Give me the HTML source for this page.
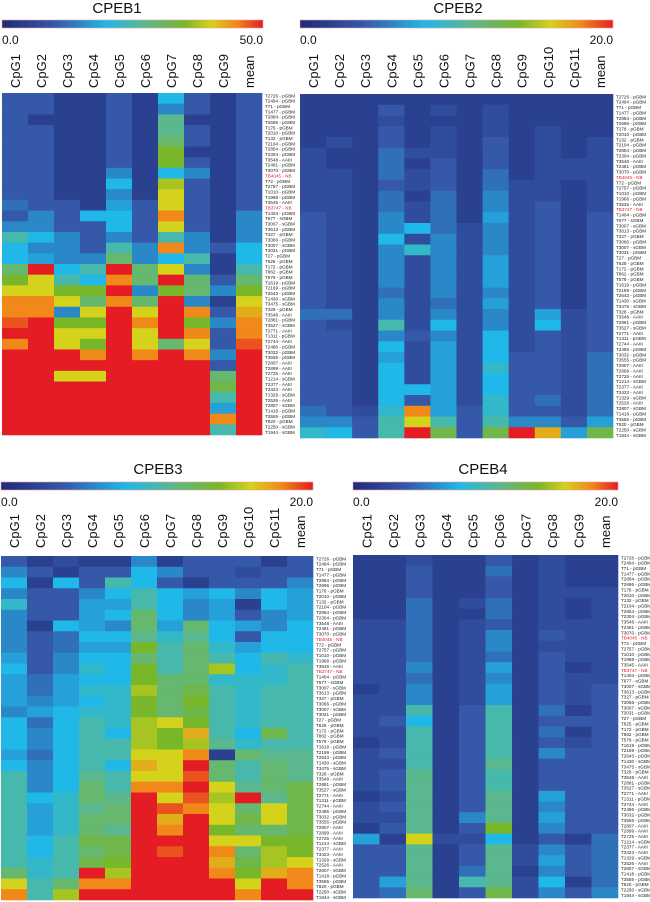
<!DOCTYPE html>
<html><head><meta charset="utf-8"><style>
html,body{margin:0;padding:0;background:#fff;}
svg{display:block;font-family:"Liberation Sans",Arial,sans-serif;}
</style></head><body>
<svg id="fig" width="650" height="902" viewBox="0 0 650 902" xmlns="http://www.w3.org/2000/svg">
<defs>
<linearGradient id="cmap" x1="0" x2="1" y1="0" y2="0">
<stop offset="0" stop-color="#1e2a78"/>
<stop offset="0.2" stop-color="#3558a8"/>
<stop offset="0.4" stop-color="#1fb8e8"/>
<stop offset="0.55" stop-color="#5bb88e"/>
<stop offset="0.7" stop-color="#79b72a"/>
<stop offset="0.8" stop-color="#d4d21a"/>
<stop offset="0.9" stop-color="#f0881a"/>
<stop offset="1" stop-color="#e41c24"/>
</linearGradient>
</defs>
</svg>
<script>
// ---- data (values on 0..10 scale relative to colour-bar max) ----
const cpeb1Cols = ["CpG1","CpG2","CpG3","CpG4","CpG5","CpG6","CpG7","CpG8","CpG9","mean"];
const cpeb1Max = "50.0";
const cpeb1Values = [
[2,2,1,1,2,1,4,2,1,2],[2,2,1,1,2,1,3,2,1,2],[2,1,1,1,2,1,5.5,1,1,2],[2,2,1,1,2,1,5.5,2,1,2],
[2,2,1,1,2,1,6,2,1,2],[2,2,1,1,2,1,7,1,1,2],[2,2,1,1,2,1,7,2,1,2],[2,2,1,1,3,1,4,3,1,2],
[2,2,1,1,4,1,7.5,2,1,2],[2,2,1,1,3,1,8,2,1,2],[2.5,2,2,1,3.5,2,8,2,1,2],[2,3,2,4,4,2,9,2,1,3],
[3,3,2,2,4,2,8,2,1,3],[5,4,3,2,3,2,5,3,1,3],[4,3,3,2,5,3,9,3,2,4],[4,3.5,3,3,6,3,4,5,1,4],
[6,10,4,5,10,6,8,3,1,5],[7,8,5,4,9,6,10,6,2,6],[8,8,7,7,10,3,7,6,3,7],[9,9,8,6,9,6,10,3,1,8],
[9,9,3,8,10,8,10,9,2,8.5],[9.5,10,7,7,10,9,10,7,3,9],[10,10,8,8,10,8,10,9,2,9],[9,10,8,7,10,8,6,8,2,9.5],
[10,10,10,9,10,9,10,9,3,10],[10,10,10,10,10,10,10,10,2,10],[10,10,8,8,10,10,10,10,6,10],[10,10,10,10,10,10,10,10,6.5,10],
[10,10,10,10,10,10,10,10,5,10],[10,10,10,10,10,10,10,10,3.5,10],[10,10,10,10,10,10,10,10,9,10],[10,10,10,10,10,10,10,10,5,10]];

const cpeb2Cols = ["CpG1","CpG2","CpG3","CpG4","CpG5","CpG6","CpG7","CpG8","CpG9","CpG10","CpG11","mean"];
const cpeb2Max = "20.0";
const cpeb2Values = [
[1,1,1,1,1,1,1,1,1,1,1,1],[1,1,1,2,1,1.5,1,1.5,1,1,1,1],[1,1,1,1.5,1,1,1,1.5,1,1,1,1],[1,1,1,2,1,1.5,1,1.5,1,1.5,1,1],
[1,1.5,1,2,1,1.5,1,2,1,1.5,1,1.5],[1.5,1,1,2.5,1.5,1.5,1,2,1,1.5,1,1.5],[1.5,1,1,2.5,1,2,1,2,1,1.5,1.5,1.5],[1.5,1.5,1,2.5,1.5,2,1,2.5,1,1.5,1.5,1.5],
[1.5,1.5,1,2,1.5,2,1,2.5,1.5,1.5,1,1.5],[1.5,1.5,1,2.5,1,2.5,1,3,1.5,1.5,1,1.5],[1.5,1.5,1,2.5,1.5,2.5,1,3,1.5,2,1,1.5],[2,1.5,1,3,1.5,2.5,1,3.5,1.5,2,1,2],
[2,1.5,1,3,4,2.5,1.5,3,1.5,2,1,2],[2,1.5,1,4,1.5,3,1.5,3,1.5,2,1,2],[2,1.5,1,3,4.5,3,1.5,3,1.5,2,1,2],[2,1.5,1,3,1.5,3,1.5,3.5,1.5,2,1,2],
[2,1.5,1,3,1.5,3,1.5,3.5,1.5,2,1,2],[2,1.5,1,3,1.5,3,1.5,3.5,1.5,2,1,2],[2,1.5,1,2.5,1.5,3,1.5,3,1.5,2,1,2],[2,1.5,1,3,1.5,2.5,1.5,3.5,1.5,2,1,2],
[2.5,2.5,1,3,1.5,3,1.5,3,1.5,3.5,1.5,2],[2,1.5,1,5,1.5,4,1.5,3,1.5,4,1.5,2],[2,2,1,3,2,3,1.5,4,1.5,2,1.5,2],[2,2,1,4,1.5,3.5,1.5,4,1.5,2,1.5,2],
[2,2,1,3.5,1.5,3.5,1.5,4,2,2,1.5,2.5],[2,2,1,4,1.5,3.5,1.5,4.5,2,2,1.5,2.5],[2,2,1,4,1.5,3.5,1.5,4,2,2,1.5,2.5],[2,2,1,4,4,3.5,1.5,4,2,2,1.5,2.5],
[2,2,1,4,2,3.5,1.5,4.5,2,2.5,1.5,2.5],[2.5,2,1.5,4.5,9,3.5,2,4.5,2,2,1.5,2.5],[3,3,2,5,8,5,2,5,3,3,2,3.5],[4.5,4,2,5,10,6.5,2,6.5,10,8.5,3.5,6.5]];

const cpeb3Cols = ["CpG1","CpG2","CpG3","CpG4","CpG5","CpG6","CpG7","CpG8","CpG9","CpG10","CpG11","mean"];
const cpeb3Max = "20.0";
const cpeb3Values = [
[2,1,1.5,1,1,3,1,2,2,2,1,2],[3,2,1,2,2,4,3,2,2,1.5,2,2],[4,1,4,2,5,4,2,1,2,2,2,3],[3,2,2,3,4,5,4,3.5,4,3,4,3.5],
[4.5,2,2,3.5,3.5,5,4,3,3.5,1,4,3.5],[3,2,2,3.5,4,6,4,3,3.5,2,3,3.5],[3,1,4,3.5,3,6,3.5,6,4,3.5,3,4],[3,2,2.5,4,4,5.5,4.5,5.5,4,2,4,4],
[3,2,2.5,3.5,3.5,7,5,6,4.5,3.5,4,4],[3.5,2,3,4,4,6,5,6,5,4,5,4.5],[4,2,3,4.5,4,7,5,6,7.5,4,4.5,5],[3.5,2.5,3.5,4,4,7,6,6,4.5,4.5,4.5,5],
[3.5,2.5,3.5,4.5,4.5,7.5,6,6.5,5,4.5,5,5],[3.5,3,3.5,4,4.5,7,6,7,5,4.5,5,5],[3,3.5,4,4.5,4.5,7,6,6.5,5,4.5,5,5],[4,2.5,4,5,4.5,7.5,8,7,5,4.5,5,5],
[4,3,4,5,4,7.5,7,8.5,5,4,6.5,5],[4,3,4,5,5,7.5,7,7.5,5.5,4.5,5,5],[3.5,2.5,4,5,5,8,8,9,1,6,5.5,5.5],[4,3,4,5,4,8.5,8,10,6,5,6,5.5],
[5,3,4,5.5,5,8,8,9.5,6,5,6,5.5],[5,3,4,6,5,9,9,10,8,5.5,6,6.5],[5,4,4.5,6,5.5,10,8,9.5,7.5,10,5.5,6.5],[5,3.5,4.5,5.5,6,10,9.5,9,8,6,8,6.5],
[5,3.5,4.5,6,6,10,8.5,10,8,6.5,8,6.5],[5,3.5,4.5,6,5.5,10,9,10,7,6,6,6.5],[5,4,5,6.5,6.5,10,10,10,8,8,7,7],[5,4,5,6,6.5,10,9.5,10,9,6,7.5,7],
[5,4.5,5,6.5,7,10,10,10,8.5,6.5,7.5,8],[6,4.5,5,10,7.5,10,10,10,9,7,8.5,9],[8,5,6,9,9,10,10,10,10,8,10,9],[9,5,7.5,10,10,10,10,10,10,9,10,10]];

const cpeb4Cols = ["CpG1","CpG2","CpG3","CpG4","CpG5","CpG6","CpG7","CpG8","CpG9","mean"];
const cpeb4Max = "20.0";
const cpeb4Values = [
[1,1,1.5,1,1,2,1,1.5,1,1],[1,1,2,1,1,2.5,1,1.5,1,1],[1,1,2,1,1,2,1,1.5,1,1],[1,1,2,1,1,2,1,1.5,1.5,1.5],
[1,1,2.5,1,1.5,2.5,1,1.5,1,1.5],[1,1,2.5,1,1,2.5,1,1.5,1,1.5],[1.5,1.5,2.5,1,1.5,2,1,1.5,1.5,1.5],[1.5,1.5,2.5,1,1.5,3,1,2,1.5,1.5],
[1.5,1.5,2.5,1,1.5,3,1,1.5,1.5,1.5],[1.5,1.5,2.5,1,1.5,2.5,1,2,1.5,1.5],[1.5,1.5,3,1,1.5,3.5,1,2,1,1.5],[1.5,1.5,2.5,1,1.5,3,1,2,1.5,1.5],
[1,1.5,3,1,1.5,3.5,1,2,1.5,2],[1.5,1.5,3,1,1.5,3.5,1,2,1.5,2],[1.5,1.5,5,1,2,5,1,2.5,1,2],[1.5,2,4,1,2,5,1,2,2,2],
[1.5,1.5,5,1,2,5,1,2.5,1,2],[1,1.5,5,1,2,5,1,2,1.5,2],[1.5,2,5,1,2,5,1,3,2,2],[1.5,1.5,5,1,2,5.5,1,2,2,2],
[1.5,2,5.5,1,2,5,1,2,2,2],[1.5,2,5.5,1,2,5,1,2,2,2],[1,1.5,5.5,1,2,5.5,1,3.5,2,2],[1.5,2,5.5,1,2,5.5,1,3,2,2],
[1.5,1.5,5.5,1,3,5.5,1,3.5,2,2],[1,2,5.5,1,2,7,1,3,2,2],[3.5,1,8,1.5,1.5,4,1,2,1,2.5],[2,2,5.5,1,2,5.5,1.5,3,2,2.5],
[2,2,5.5,1,2,5.5,1.5,3.5,2,2.5],[2,2,5.5,1,2.5,5.5,1,3,2,2.5],[2,3.5,5.5,1,5,5.5,1.5,4,1,2.5],[2,2.5,6,1,2,6.5,1.5,3,2,3]];

const sampleLabels = ["T2726 - pGBM","T2494 - pGBM","T71 - pGBM","T1477 - pGBM","T2884 - pGBM","T2696 - pGBM","T176 - pGBM","T2010 - pGBM","T132 - pGBM","T2104 - pGBM","T2854 - pGBM","T2304 - pGBM","T3548 - AAIII","T2481 - pGBM","T3070 - pGBM","TB4045 - NB","T72 - pGBM","T2757 - pGBM","T1010 - pGBM","T1968 - pGBM","T3545 - AAIII","TB3747 - NB","T1404 - pGBM","T677 - sGBM","T3007 - sGBM","T3613 - pGBM","T327 - pGBM","T3066 - pGBM","T3007 - sGBM","T3031 - pGBM","T27 - pGBM","T625 - pGBM","T172 - pGBM","T862 - pGBM","T579 - pGBM","T1619 - pGBM","T2169 - pGBM","T2643 - pGBM","T1430 - sGBM","T3475 - sGBM","T328 - pGBM","T3548 - AAIII","T2881 - pGBM","T3527 - sGBM","T2771 - AAIII","T1311 - pGBM","T2744 - AAIII","T2486 - pGBM","T3032 - pGBM","T3555 - pGBM","T2807 - AAIII","T2899 - AAIII","T2725 - AAIII","T1214 - sGBM","T2377 - AAIII","T3423 - AAIII","T1329 - sGBM","T2526 - AAIII","T2807 - sGBM","T1418 - pGBM","T3555 - pGBM","T820 - pGBM","T2250 - sGBM","T1944 - sGBM"];

// ---- colormap ----
const stops=[[0,[30,42,120]],[0.2,[53,88,168]],[0.4,[31,184,232]],[0.55,[91,184,142]],[0.7,[121,183,42]],[0.8,[212,210,26]],[0.9,[240,136,26]],[1,[228,28,36]]];
function cmap(v){let t=Math.max(0,Math.min(1,v/10));for(let i=1;i<stops.length;i++){if(t<=stops[i][0]){const a=stops[i-1],b=stops[i];const f=(t-a[0])/(b[0]-a[0]);const c=a[1].map((x,k)=>Math.round(x+(b[1][k]-x)*f));return `rgb(${c[0]},${c[1]},${c[2]})`;}}return "rgb(228,28,36)";}

const NS="http://www.w3.org/2000/svg";
const svg=document.getElementById('fig');
function mk(tag,attrs,parent){const e=document.createElementNS(NS,tag);for(const k in attrs)e.setAttribute(k,attrs[k]);(parent||svg).appendChild(e);return e;}

function drawPanel(name,title,cols,values,maxLabel,L){
  const g=mk('g',{});
  
  
  const t=mk('text',{x:L.tx,y:L.ty,'font-size':15,'text-anchor':'middle',fill:'#111'},g);t.textContent=title;
  
  
  const cb=mk('rect',{x:L.cx0,y:L.cy,width:L.cx1-L.cx0,height:8,fill:'url(#cmap)',stroke:'#e8a0a0','stroke-width':0.6},g);
  
  
  const lo=mk('text',{x:L.cx0,y:L.cy+24,'font-size':12,fill:'#111'},g);lo.textContent="0.0";
  
  
  const hi=mk('text',{x:L.cx1,y:L.cy+24,'font-size':12,'text-anchor':'end',fill:'#111'},g);hi.textContent=maxLabel;
  
  
  const nc=cols.length, nr=values.length;
  const cw=(L.x1-L.x0)/nc, rh=(L.y1-L.y0)/nr;
  cols.forEach((c,i)=>{
    const cx=L.x0+cw*(i+0.5)+5;
    const lt=mk('text',{x:cx,y:L.hy,'font-size':13,'text-anchor':'start',fill:'#111',transform:`rotate(-90 ${cx} ${L.hy})`},g);
    lt.textContent=c;
    
    
  });
  mk('rect',{x:L.x0,y:L.y0,width:L.x1-L.x0,height:L.y1-L.y0,fill:'#2a3f90'},g);
  values.forEach((row,r)=>row.forEach((v,c)=>{
    const cell=mk('rect',{x:L.x0+c*cw,y:L.y0+r*rh,width:cw+0.3,height:rh+0.3,fill:cmap(v)},g);
    
    
  }));
  const lh=(L.y1-L.y0)/sampleLabels.length;
  sampleLabels.forEach((s,i)=>{
    const red=s.indexOf('NB')>=0;
    const lab=mk('text',{x:L.lx,y:L.y0+lh*(i+0.8),'font-size':4.6,fill:red?'#e41c24':'#222'},g);
    lab.textContent=s;
    
    
  });
}
drawPanel('cpeb1','CPEB1',cpeb1Cols,cpeb1Values,cpeb1Max,{tx:117,ty:13,cx0:2,cx1:263,cy:20,hy:88,x0:2,x1:262,y0:93,y1:435,lx:265});
drawPanel('cpeb2','CPEB2',cpeb2Cols,cpeb2Values,cpeb2Max,{tx:458,ty:13,cx0:300,cx1:613,cy:20,hy:88,x0:300,x1:613,y0:94,y1:438,lx:616});
drawPanel('cpeb3','CPEB3',cpeb3Cols,cpeb3Values,cpeb3Max,{tx:158,ty:474,cx0:1,cx1:313,cy:482,hy:548,x0:1,x1:313,y0:556,y1:900,lx:316});
drawPanel('cpeb4','CPEB4',cpeb4Cols,cpeb4Values,cpeb4Max,{tx:483,ty:474,cx0:353,cx1:618,cy:482,hy:548,x0:353,x1:618,y0:555,y1:898,lx:621});
</script>
</body></html>
